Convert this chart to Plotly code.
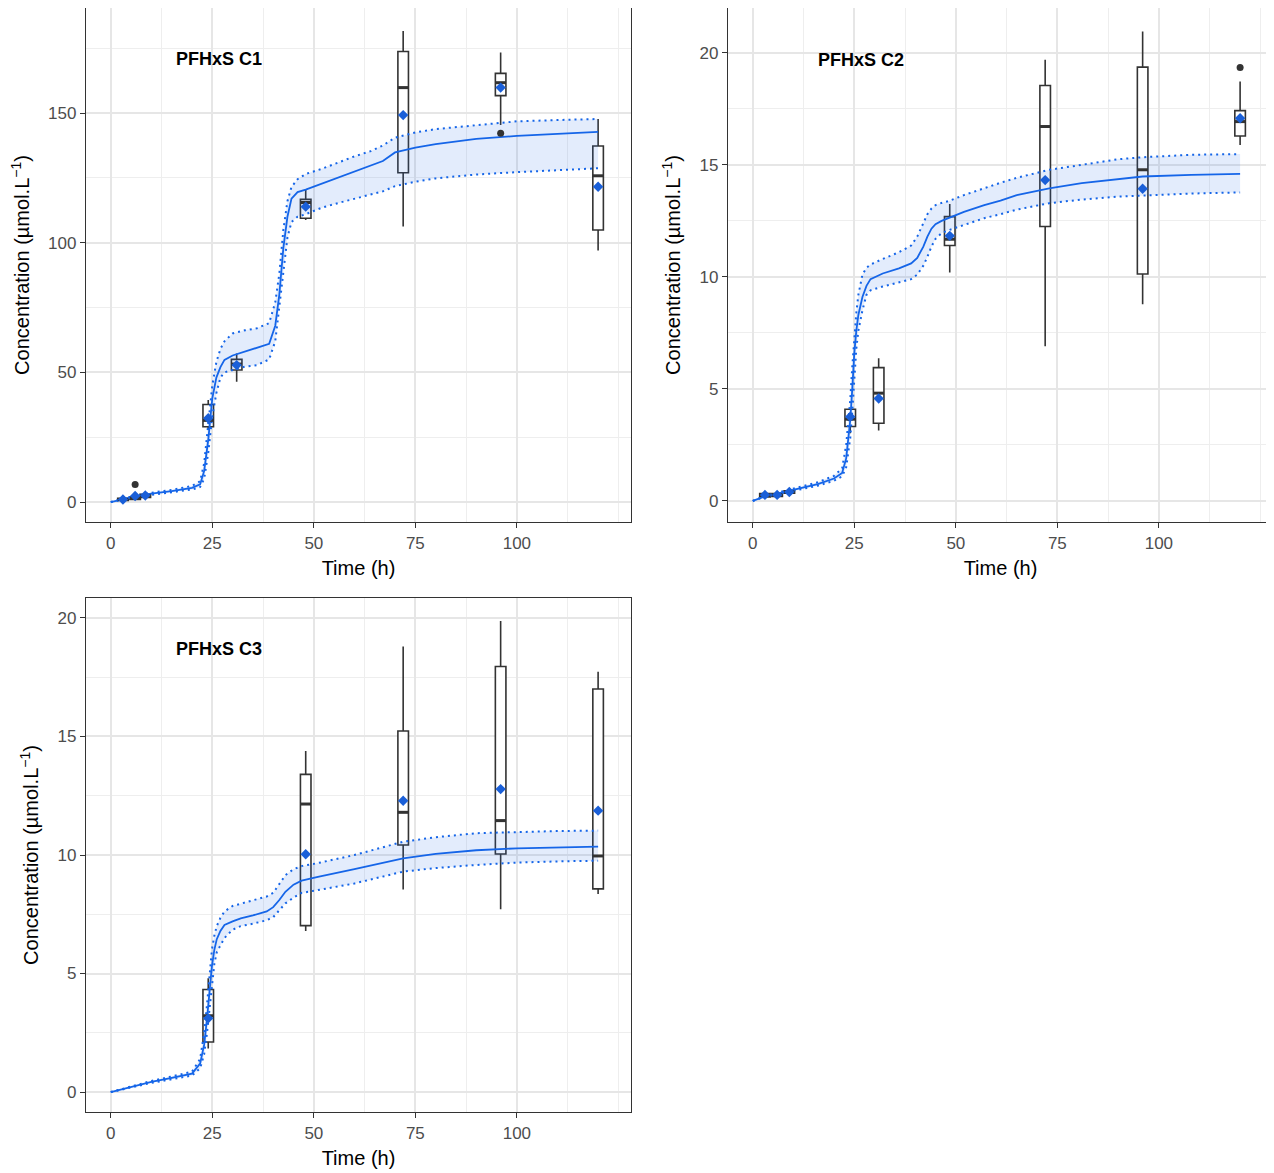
import plotly.graph_objects as go

# ---------------- DATA ----------------
# Model predictions (mean + interval) per panel
c1_t = [0, 3, 6, 10, 15, 20, 22, 23, 24, 25, 26, 27, 28, 30, 33, 36, 39, 40.5, 41.5, 42.5, 43.5, 44.5, 46, 48,
        52, 56, 60, 64, 67, 70, 75, 80, 90, 100, 110, 120]
c1_mid = [0, 1.2, 2.2, 3.2, 4.2, 5.5, 6.8, 12, 24, 40, 48, 52, 54.8, 56.5, 58, 59.3, 61, 68, 80, 98, 110, 117, 119.5, 120.5,
          122.8, 125, 127.3, 129.5, 131.5, 134.8, 136.7, 138, 140, 141.2, 142, 142.7]
c1_hi = [0, 1.4, 2.5, 3.6, 4.7, 6.2, 8, 15, 29, 45, 54, 59, 62, 65, 66.2, 67, 69, 77, 88, 105, 116, 121.5, 124.5, 126.5,
         128.5, 131, 133.3, 135.3, 137.5, 140.5, 142.5, 143.8, 145.2, 146.8, 147.3, 147.7]
c1_lo = [0, 1.0, 1.9, 2.8, 3.7, 4.8, 5.8, 9, 19, 33, 42, 48, 50, 51, 52.2, 52.8, 55, 62, 75, 90, 102, 108, 110, 111,
         113.5, 115.3, 117, 118.5, 119.8, 121.8, 123.5, 124.8, 126.3, 127.2, 128, 128.7]

c2_t = [0, 3, 6, 9, 12, 16, 20, 22, 23, 24, 24.5, 25, 25.5, 26, 26.5, 27, 28, 29, 32, 36, 39, 40.5, 42, 43, 44, 45,
        46.5, 48.5, 52, 57, 61, 65, 73, 81, 90, 96, 108, 120]
c2_mid = [0, 0.2, 0.33, 0.45, 0.57, 0.75, 1.0, 1.25, 1.9, 3.6, 5.0, 6.6, 7.6, 8.3, 8.7, 9.1, 9.6, 9.9, 10.15, 10.38,
          10.6, 10.85, 11.35, 11.8, 12.15, 12.35, 12.5, 12.65, 12.9, 13.2, 13.4, 13.65, 13.95, 14.18, 14.38, 14.48,
          14.55, 14.6]
c2_hi = [0, 0.22, 0.37, 0.5, 0.63, 0.83, 1.12, 1.45, 2.5, 4.5, 6.0, 7.4, 8.4, 9.2, 9.7, 10.1, 10.4, 10.55, 10.8, 11.1,
         11.4, 11.8, 12.4, 12.8, 13.05, 13.2, 13.3, 13.4, 13.65, 13.97, 14.2, 14.42, 14.78, 15.0, 15.25, 15.34,
         15.45, 15.48]
c2_lo = [0, 0.18, 0.3, 0.41, 0.52, 0.68, 0.9, 1.1, 1.5, 2.8, 4.0, 5.6, 6.8, 7.6, 8.1, 8.5, 9.2, 9.4, 9.57, 9.75, 9.9,
         10.1, 10.5, 10.9, 11.35, 11.7, 11.95, 12.1, 12.3, 12.62, 12.8, 13.0, 13.29, 13.45, 13.58, 13.63, 13.72,
         13.77]

c3_t = [0, 5, 10, 15, 20, 22, 23, 23.7, 24.3, 24.9, 25.5, 26.1, 27, 28, 30, 32, 35, 38.4, 40, 41.5, 43, 45, 47, 51,
        60, 72, 80, 90, 100, 110, 120]
c3_mid = [0, 0.22, 0.43, 0.6, 0.78, 1.2, 2.0, 3.1, 4.2, 5.3, 6.0, 6.45, 6.8, 7.05, 7.2, 7.33, 7.45, 7.62, 7.8, 8.1,
          8.45, 8.75, 8.92, 9.08, 9.4, 9.86, 10.05, 10.2, 10.28, 10.32, 10.35]
c3_hi = [0, 0.24, 0.47, 0.66, 0.86, 1.4, 2.5, 3.7, 4.9, 6.0, 6.6, 7.0, 7.35, 7.62, 7.85, 7.95, 8.07, 8.25, 8.4, 8.8,
         9.15, 9.4, 9.53, 9.66, 10.0, 10.56, 10.75, 10.92, 10.98, 11.01, 11.03]
c3_lo = [0, 0.2, 0.39, 0.54, 0.7, 1.0, 1.6, 2.5, 3.5, 4.6, 5.4, 5.9, 6.2, 6.5, 6.85, 7.0, 7.1, 7.25, 7.38, 7.65,
         7.96, 8.2, 8.4, 8.52, 8.8, 9.3, 9.45, 9.58, 9.68, 9.73, 9.76]

# Observed data summaries (boxplots)
c1_box_t = [3, 6, 8.5, 24, 31, 48, 72, 96, 120]
c1_q1 = [0.6, 1.0, 1.8, 29.0, 50.9, 109.4, 127.0, 156.7, 104.9]
c1_med = [1.0, 1.5, 2.4, 31.5, 53.2, 115.5, 159.8, 161.7, 125.8]
c1_q3 = [1.4, 2.0, 3.0, 37.6, 55.0, 116.7, 173.7, 165.3, 137.3]
c1_wlo = [0.4, 0.8, 1.2, 27.8, 46.4, 108.8, 106.2, 145.4, 97.0]
c1_whi = [1.6, 2.4, 3.6, 39.3, 57.3, 120.3, 181.6, 173.3, 147.7]
c1_mean = [1.0, 2.3, 2.5, 32.3, 52.8, 113.9, 149.2, 159.8, 121.6]
c1_out_t = [6, 96]
c1_out_y = [6.8, 142.2]

c2_box_t = [3, 6, 9, 24, 31, 48.5, 72, 96, 120]
c2_q1 = [0.18, 0.2, 0.35, 3.32, 3.47, 11.4, 12.25, 10.13, 16.29]
c2_med = [0.25, 0.27, 0.4, 3.65, 4.81, 11.68, 16.71, 14.78, 16.93]
c2_q3 = [0.33, 0.33, 0.45, 4.09, 5.95, 12.69, 18.54, 19.36, 17.42]
c2_wlo = [0.15, 0.18, 0.32, 3.02, 3.14, 10.19, 6.9, 8.78, 15.89]
c2_whi = [0.36, 0.36, 0.48, 4.1, 6.37, 13.25, 19.69, 20.95, 18.72]
c2_mean = [0.27, 0.27, 0.4, 3.76, 4.57, 11.83, 14.32, 13.93, 17.08]
c2_out_t = [120]
c2_out_y = [19.35]

c3_box_t = [24, 48, 72, 96, 120]
c3_q1 = [2.11, 7.02, 10.42, 10.04, 8.57]
c3_med = [3.22, 12.15, 11.8, 11.45, 9.96]
c3_q3 = [4.33, 13.4, 15.23, 17.95, 17.0]
c3_wlo = [1.84, 6.79, 8.55, 7.71, 8.35]
c3_whi = [4.8, 14.39, 18.79, 19.87, 17.73]
c3_mean = [3.11, 10.03, 12.29, 12.78, 11.87]
c3_out_t = []
c3_out_y = []

panel_labels = ["PFHxS C1", "PFHxS C2", "PFHxS C3"]
x_ticks = [0, 25, 50, 75, 100]
y_ticks_c1 = [0, 50, 100, 150]
y_ticks_c23 = [0, 5, 10, 15, 20]

# ---------------- STYLE ----------------
W, H = 1274, 1173
OFF = 8  # page body margin offset
FONT = "Liberation Sans, Arial, sans-serif"
BLUE = "#1565E8"
RIB = "rgba(40,110,230,0.13)"
BOXC = "#333333"
BOX_W = 2.6

panels = [
    dict(t=c1_t, mid=c1_mid, hi=c1_hi, lo=c1_lo, bt=c1_box_t, q1=c1_q1, med=c1_med, q3=c1_q3, wlo=c1_wlo,
         whi=c1_whi, mean=c1_mean, ot=c1_out_t, oy=c1_out_y, yr=[-7.7, 190.5], yt=y_ticks_c1, ydt=50,
         px=(86, 631), py=(8, 522), lab_y=170.8),
    dict(t=c2_t, mid=c2_mid, hi=c2_hi, lo=c2_lo, bt=c2_box_t, q1=c2_q1, med=c2_med, q3=c2_q3, wlo=c2_wlo,
         whi=c2_whi, mean=c2_mean, ot=c2_out_t, oy=c2_out_y, yr=[-0.94, 22.0], yt=y_ticks_c23, ydt=5,
         px=(728, 1273), py=(8, 522), lab_y=19.7),
    dict(t=c3_t, mid=c3_mid, hi=c3_hi, lo=c3_lo, bt=c3_box_t, q1=c3_q1, med=c3_med, q3=c3_q3, wlo=c3_wlo,
         whi=c3_whi, mean=c3_mean, ot=c3_out_t, oy=c3_out_y, yr=[-0.84, 20.84], yt=y_ticks_c23, ydt=5,
         px=(86, 631), py=(598, 1112), lab_y=18.7),
]

fig = go.Figure()
layout = dict(
    width=W, height=H, margin=dict(l=0, r=0, t=0, b=0),
    paper_bgcolor="white", plot_bgcolor="white", showlegend=False,
    font=dict(family=FONT, size=17, color="#4D4D4D"),
    annotations=[],
)

for i, p in enumerate(panels):
    n = "" if i == 0 else str(i + 1)
    xa, ya = "x" + n, "y" + n
    # boxes
    fig.add_trace(go.Box(
        x=p["bt"], q1=p["q1"], median=p["med"], q3=p["q3"], lowerfence=p["wlo"], upperfence=p["whi"],
        width=BOX_W, boxpoints=False, whiskerwidth=0, fillcolor="white",
        line=dict(color=BOXC, width=1.6), xaxis=xa, yaxis=ya, hoverinfo="skip"))
    # ribbon
    fig.add_trace(go.Scatter(x=p["t"], y=p["lo"], mode="lines",
                             line=dict(color=BLUE, width=2, dash="2px,4px"),
                             xaxis=xa, yaxis=ya, hoverinfo="skip"))
    fig.add_trace(go.Scatter(x=p["t"], y=p["hi"], mode="lines",
                             line=dict(color=BLUE, width=2, dash="2px,4px"),
                             fill="tonexty", fillcolor=RIB, xaxis=xa, yaxis=ya, hoverinfo="skip"))
    # model line
    fig.add_trace(go.Scatter(x=p["t"], y=p["mid"], mode="lines", line=dict(color=BLUE, width=1.8),
                             xaxis=xa, yaxis=ya, hoverinfo="skip"))
    # thick medians
    mx, my = [], []
    for t, m in zip(p["bt"], p["med"]):
        mx += [t - BOX_W / 2, t + BOX_W / 2, None]
        my += [m, m, None]
    fig.add_trace(go.Scatter(x=mx, y=my, mode="lines", line=dict(color=BOXC, width=3),
                             xaxis=xa, yaxis=ya, hoverinfo="skip"))
    # outliers
    if p["ot"]:
        fig.add_trace(go.Scatter(x=p["ot"], y=p["oy"], mode="markers",
                                 marker=dict(color="#333333", size=7), xaxis=xa, yaxis=ya, hoverinfo="skip"))
    # means
    fig.add_trace(go.Scatter(x=p["bt"], y=p["mean"], mode="markers",
                             marker=dict(color="#1A5FD8", size=8, symbol="diamond"),
                             xaxis=xa, yaxis=ya, hoverinfo="skip"))

    x0, x1 = p["px"][0] - OFF, p["px"][1] - OFF
    y0, y1 = p["py"][0] - OFF, p["py"][1] - OFF
    axis_common = dict(showline=True, linecolor="#333333", linewidth=1.3, mirror=True, zeroline=False,
                       showgrid=True, gridcolor="#E6E6E6", gridwidth=1.6,
                       ticks="outside", ticklen=5, tickcolor="#333333", tickwidth=1.2,
                       tickfont=dict(family=FONT, size=17, color="#4D4D4D"))
    layout["xaxis" + n] = dict(
        axis_common, domain=[max(0, x0 / W), min(1, x1 / W)], range=[-6.1, 128.1], anchor=ya,
        tickmode="array", tickvals=x_ticks,
        minor=dict(dtick=12.5, tick0=0, showgrid=True, gridcolor="#EEEEEE", gridwidth=1, ticks=""),
        title=dict(text="Time (h)", font=dict(family=FONT, size=20, color="black"), standoff=9))
    layout["yaxis" + n] = dict(
        axis_common, domain=[1 - y1 / H, 1 - y0 / H], range=p["yr"], anchor=xa,
        tickmode="array", tickvals=p["yt"],
        minor=dict(dtick=p["ydt"] / 2, tick0=0, showgrid=True, gridcolor="#EEEEEE", gridwidth=1, ticks=""),
        title=dict(text="Concentration (µmol.L<sup>−1</sup>)", font=dict(family=FONT, size=20, color="black"),
                   standoff=13))
    layout["annotations"].append(dict(
        x=15.5, y=p["lab_y"], xref=xa, yref=ya, text="<b>" + panel_labels[i] + "</b>", showarrow=False,
        xanchor="left", yanchor="middle", font=dict(family=FONT, size=18, color="black")))

fig.update_layout(**layout)
fig.write_html("out.html")
